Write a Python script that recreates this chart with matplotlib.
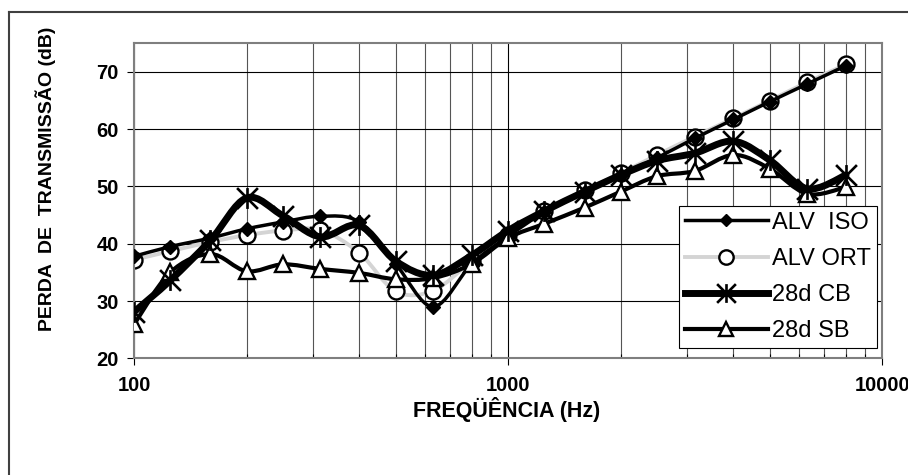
import numpy as np
import matplotlib
matplotlib.use("Agg")
import matplotlib.pyplot as plt
from matplotlib.path import Path
from matplotlib.patches import PathPatch
from matplotlib.lines import Line2D
from matplotlib.ticker import LogLocator, FuncFormatter, NullFormatter

plt.rcParams['font.family'] = ['Liberation Sans', 'DejaVu Sans']

# third-octave bands (Hz)
freq = [100, 125, 160, 200, 250, 315, 400, 500, 630, 800,
        1000, 1250, 1600, 2000, 2500, 3150, 4000, 5000, 6300, 8000]

alv_iso = [37.8, 39.5, 41.0, 42.6, 43.8, 44.8, 43.8, 36.5, 29.0, 36.5,
           41.3, 45.5, 49.0, 52.0, 55.0, 58.4, 61.7, 64.8, 67.9, 71.1]
alv_ort = [37.2, 38.7, 40.3, 41.5, 42.3, 42.4, 38.4, 31.7, 31.8, 37.0,
           41.6, 45.8, 49.3, 52.3, 55.5, 58.7, 61.9, 65.0, 68.2, 71.3]
cb_28d = [28.1, 33.6, 40.6, 48.0, 44.9, 41.2, 43.2, 37.0, 34.5, 38.0,
          42.3, 45.7, 49.1, 52.0, 54.5, 55.8, 57.9, 54.6, 49.6, 52.0]
sb_28d = [25.9, 35.0, 38.2, 35.2, 36.4, 35.6, 34.9, 33.8, 34.0, 36.5,
          41.0, 43.5, 46.3, 49.1, 51.8, 52.7, 55.5, 53.1, 48.7, 49.9]

labels = ['ALV  ISO', 'ALV ORT', '28d CB', '28d SB']

# excel-like star marker (X plus vertical bar)
star = Path([(-1, -1), (1, 1), (-1, 1), (1, -1), (0, -1), (0, 1)],
            [Path.MOVETO, Path.LINETO, Path.MOVETO, Path.LINETO, Path.MOVETO, Path.LINETO])


def smooth_path(xs, ys):
    # smoothed line like the spreadsheet one: cubic bezier through the points,
    # built in log-x space so it follows the log axis
    lx = np.log10(xs)
    y = np.asarray(ys, float)
    n = len(lx)
    verts = [(xs[0], y[0])]
    codes = [Path.MOVETO]
    for i in range(n - 1):
        i0 = max(i - 1, 0)
        i3 = min(i + 2, n - 1)
        c1 = (lx[i] + (lx[i + 1] - lx[i0]) / 6, y[i] + (y[i + 1] - y[i0]) / 6)
        c2 = (lx[i + 1] - (lx[i3] - lx[i]) / 6, y[i + 1] - (y[i3] - y[i]) / 6)
        verts += [(10 ** c1[0], c1[1]), (10 ** c2[0], c2[1]), (xs[i + 1], y[i + 1])]
        codes += [Path.CURVE4] * 3
    return Path(verts, codes)


fig = plt.figure(figsize=(9.08, 4.75), dpi=100)
ax = fig.add_axes([0.1476, 0.2457, 0.8241, 0.6632])

styles = [
    (alv_ort, dict(color='#d4d4d4', lw=2.8, marker='o', ms=11.5, mfc='white', mec='black', mew=1.7), 2),
    (alv_iso, dict(color='black', lw=2.5, marker='D', ms=7, mfc='black', mec='black', mew=1.0), 3),
    (sb_28d, dict(color='black', lw=3.0, marker='^', ms=11.5, mfc='white', mec='black', mew=1.7), 4),
    (cb_28d, dict(color='black', lw=5.0, marker=star, ms=15, mfc='none', mec='black', mew=1.9), 5),
]

for vals, st, z in styles:
    ax.add_patch(PathPatch(smooth_path(freq, vals), facecolor='none', edgecolor=st['color'],
                           lw=st['lw'], zorder=z, capstyle='round', joinstyle='round'))
    ax.plot(freq, vals, linestyle='none', marker=st['marker'], ms=st['ms'], mfc=st['mfc'],
            mec=st['mec'], mew=st['mew'], zorder=z + 0.1)

ax.set_xscale('log')
ax.set_xlim(100, 10000)
ax.set_ylim(20, 75)
ax.set_yticks([20, 30, 40, 50, 60, 70])
ax.xaxis.set_major_locator(LogLocator(base=10))
ax.xaxis.set_minor_locator(LogLocator(base=10, subs=np.arange(2, 10)))
ax.xaxis.set_major_formatter(FuncFormatter(lambda v, p: f'{v:.0f}'))
ax.xaxis.set_minor_formatter(NullFormatter())

ax.set_axisbelow(True)
ax.grid(True, which='major', color='black', lw=0.8)
ax.grid(True, which='minor', axis='x', color='#555555', lw=0.8)

ax.tick_params(which='major', direction='out', length=5, width=0.8, labelsize=14.5)
ax.tick_params(axis='y', pad=6)
ax.tick_params(axis='x', pad=8)
ax.tick_params(which='minor', direction='in', length=3, width=0.8)
for lab in ax.get_xticklabels() + ax.get_yticklabels():
    lab.set_fontweight('bold')

for sp in ax.spines.values():
    sp.set_color('#7f7f7f')
    sp.set_linewidth(1.5)

fig.text(46 / 908, 1 - 179 / 475, 'PERDA  DE  TRANSMISSÃO (dB)', rotation=90,
         ha='center', va='center', fontsize=14, fontweight='bold')
fig.text(507 / 908, 1 - 409 / 475, 'FREQÜÊNCIA (Hz)', ha='center', va='center',
         fontsize=15.5, fontweight='bold')

# outer frame of the chart area
fig.add_artist(Line2D([9 / 908, 9 / 908], [0, 1 - 12 / 475], color='#404040', lw=1.5))
fig.add_artist(Line2D([9 / 908, 1], [1 - 12 / 475, 1 - 12 / 475], color='#404040', lw=1.5))

handles = []
for vals, st, z in [styles[1], styles[0], styles[3], styles[2]]:
    handles.append(Line2D([], [], color=st['color'], lw=st['lw'], marker=st['marker'],
                          ms=st['ms'] * 0.9, mfc=st['mfc'], mec=st['mec'], mew=st['mew']))
leg = ax.legend(handles, labels, loc='upper right', bbox_to_anchor=(0.993, 0.4844),
                fontsize=17, frameon=True, fancybox=False, edgecolor='black', framealpha=1,
                borderpad=0.25, labelspacing=0.6, handlelength=3.5, handletextpad=0.2,
                borderaxespad=0, numpoints=1)
leg.get_frame().set_linewidth(0.8)
leg.set_zorder(10)

fig.savefig('out.png', dpi=100)
